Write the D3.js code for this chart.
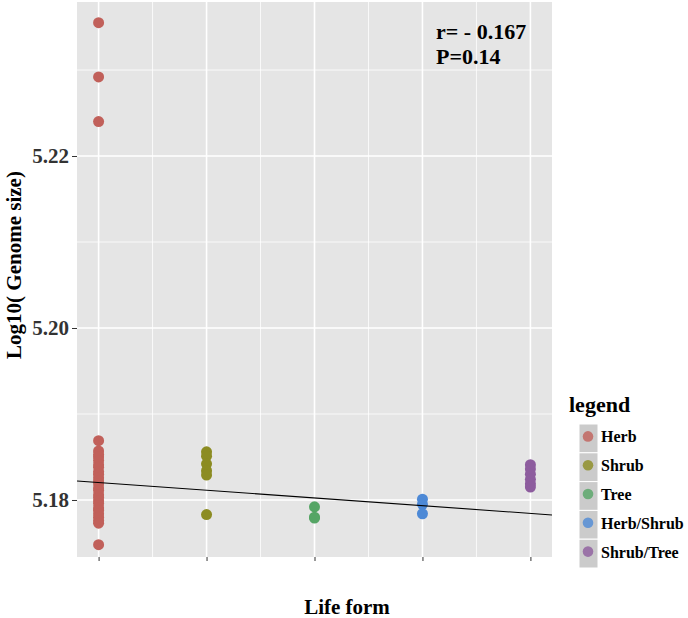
<!DOCTYPE html>
<html><head><meta charset="utf-8">
<script src="https://cdn.jsdelivr.net/npm/d3@7"></script>
<style>body{margin:0;background:#fff}</style>
</head><body>
<svg id="chart" width="688" height="618"></svg>
<script>
const categories = ["Herb","Shrub","Tree","Herb/Shrub","Shrub/Tree"];
const colors = ["#c1605a","#8c8c22","#55a565","#4d89d6","#8d5c9e"];
const herbValues = [5.2355,5.2292,5.2240,5.1869,5.1857,5.1853,5.1850,5.1846,5.1841,5.1838,5.1833,5.1830,5.1826,5.1822,5.1819,5.1814,5.1811,5.1806,5.1803,5.1799,5.1796,5.1791,5.1788,5.1784,5.1780,5.1776,5.1773,5.1748];
const shrubValues = [5.1856,5.1851,5.1842,5.1834,5.1829,5.1783];
const treeValues = [5.1792,5.1780,5.1779];
const herbShrubValues = [5.1801,5.1795,5.1784];
const shrubTreeValues = [5.1841,5.1836,5.1830,5.1824,5.1819,5.1815];
const seriesValues = [herbValues,shrubValues,treeValues,herbShrubValues,shrubTreeValues];
const yTicks = [5.18,5.20,5.22];
const yMinor = [5.17,5.19,5.21,5.23];
const fitIntercept = 5.18293, fitSlope = -0.000898;
const annotation = ["r= - 0.167","P=0.14"];

const svg = d3.select("#chart");
const P = {l:77, r:552, t:2, b:557};
const x = d3.scaleLinear().domain([0.8,5.2]).range([P.l,P.r]);
const y = d3.scaleLinear().domain([5.17337,5.23791]).range([P.b,P.t]);

svg.append("rect").attr("x",P.l).attr("y",P.t).attr("width",P.r-P.l).attr("height",P.b-P.t).attr("fill","#e5e5e5");
const g = svg.append("g");
yMinor.filter(v=>y(v)>=P.t&&y(v)<=P.b).forEach(v=>g.append("line").attr("x1",P.l).attr("x2",P.r).attr("y1",y(v)).attr("y2",y(v)).attr("stroke","#fff").attr("stroke-width",0.8));
[1.5,2.5,3.5,4.5].forEach(v=>g.append("line").attr("x1",x(v)).attr("x2",x(v)).attr("y1",P.t).attr("y2",P.b).attr("stroke","#fff").attr("stroke-width",0.8));
yTicks.forEach(v=>g.append("line").attr("x1",P.l).attr("x2",P.r).attr("y1",y(v)).attr("y2",y(v)).attr("stroke","#fff").attr("stroke-width",1.6));
categories.forEach((c,i)=>g.append("line").attr("x1",x(i+1)).attr("x2",x(i+1)).attr("y1",P.t).attr("y2",P.b).attr("stroke","#fff").attr("stroke-width",1.6));

// points
seriesValues.forEach((vals,i)=>{
  svg.append("g").selectAll("circle").data(vals).join("circle")
    .attr("cx",x(i+1)).attr("cy",d=>y(d)).attr("r",5.5).attr("fill",colors[i]);
});

// regression line
svg.append("line").attr("x1",x(0.8)).attr("x2",x(5.2))
  .attr("y1",y(fitIntercept+fitSlope*0.8)).attr("y2",y(fitIntercept+fitSlope*5.2))
  .attr("stroke","#000").attr("stroke-width",1.1);

// axes
const font = "'Liberation Serif','Times New Roman',serif";
const yAxis = svg.append("g").attr("transform",`translate(${P.l},0)`)
  .call(d3.axisLeft(y).tickValues(yTicks).tickFormat(d3.format(".2f")).tickSize(5).tickPadding(3));
yAxis.select(".domain").remove();
yAxis.selectAll(".tick line").attr("stroke","#333");
yAxis.selectAll(".tick text").attr("font-family",font).attr("font-weight","bold").attr("font-size",21).attr("fill","#333");
const xAxis = svg.append("g").attr("transform",`translate(0,${P.b})`)
  .call(d3.axisBottom(x).tickValues([1,2,3,4,5]).tickFormat("").tickSize(4));
xAxis.select(".domain").remove();
xAxis.selectAll(".tick line").attr("stroke","#333");

svg.append("text").attr("transform","translate(21,265) rotate(-90)").attr("text-anchor","middle")
  .attr("font-family",font).attr("font-weight","bold").attr("font-size",21).text("Log10( Genome size)");
svg.append("text").attr("x",347).attr("y",614).attr("text-anchor","middle")
  .attr("font-family",font).attr("font-weight","bold").attr("font-size",21).text("Life form");

annotation.forEach((t,i)=>svg.append("text").attr("x",436).attr("y",39+i*25)
  .attr("font-family",font).attr("font-weight","bold").attr("font-size",22).text(t));

// legend
const L = svg.append("g");
L.append("text").attr("x",569).attr("y",412).attr("font-family",font).attr("font-weight","bold").attr("font-size",22).text("legend");
const kh = 28.8, ky0 = 424;
categories.forEach((c,i)=>{
  L.append("rect").attr("x",579).attr("y",ky0+i*kh).attr("width",19).attr("height",kh).attr("fill","#cbcbcb").attr("stroke","#fff").attr("stroke-width",1);
  L.append("circle").attr("cx",588).attr("cy",ky0+i*kh+kh/2-2).attr("r",5.3).attr("fill",colors[i]).attr("opacity",0.8);
  L.append("text").attr("x",601).attr("y",ky0+i*kh+kh/2+4).attr("font-family",font).attr("font-weight","bold").attr("font-size",16).text(c);
});
</script>
</body></html>
